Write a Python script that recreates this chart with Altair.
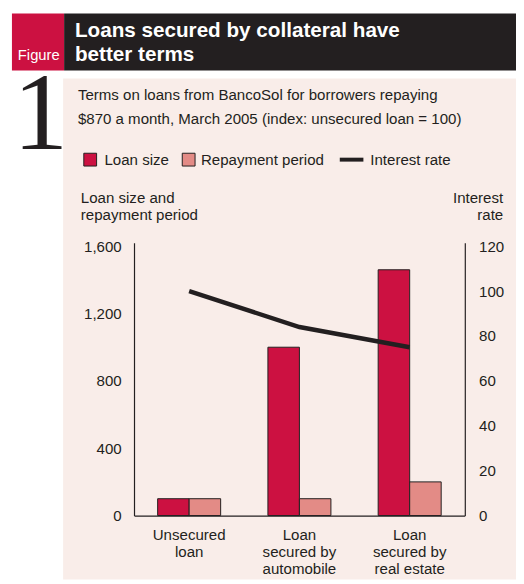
import altair as alt
import pandas as pd

# ---- data ----
categories = ["Unsecured\nloan", "Loan\nsecured by\nautomobile", "Loan\nsecured by\nreal estate"]
loan_size = [100, 1000, 1460]
repayment_period = [100, 100, 200]
interest_rate = [100, 84, 75]
series_names = ["Loan size", "Repayment period"]
left_ticks = [0, 400, 800, 1200, 1600]
right_ticks = [0, 20, 40, 60, 80, 100, 120]

RED = "#cc1141"
PINK = "#e38b86"
INK = "#231f20"
BG = "#f9ede9"
FONT = "Liberation Sans"
BOLD = "Liberation Sans"
SERIF = "Liberation Serif"
FS = 15.3

bars = pd.DataFrame({
    "category": categories * 2,
    "series": [series_names[0]] * 3 + [series_names[1]] * 3,
    "value": loan_size + repayment_period,
})
line_df = pd.DataFrame({"category": categories, "rate": interest_rate})
one = alt.Data(values=[{"k": 0}])

xenc = alt.X("category:N", sort=categories,
             scale=alt.Scale(paddingInner=0, paddingOuter=0),
             axis=alt.Axis(labelExpr="split(datum.label, '\\n')", labelAngle=0,
                           labelBaseline="top", labelPadding=12, labelLineHeight=17.5,
                           labelFontSize=FS, domain=True, ticks=False, title=None,
                           zindex=1))


def rect(x, x2, y, y2, fill, stroke=None):
    kw = dict(fill=fill)
    if stroke:
        kw.update(stroke=stroke, strokeWidth=1)
    return alt.Chart(one).mark_rect(**kw).encode(
        x=alt.value(x), x2=alt.value(x2), y=alt.value(y), y2=alt.value(y2))


def txt(s, x, y, size=FS, color=INK, align="left", font=FONT, weight="normal"):
    return alt.Chart(one).mark_text(text=s, align=align, baseline="alphabetic",
                                    fontSize=size, font=font, fontWeight=weight,
                                    color=color).encode(x=alt.value(x), y=alt.value(y))


decor = [
    rect(-72, 388, -167, 342, BG),
    rect(-124, -71, -233, -175, RED),
    rect(-71, 388, -233, -175, INK),
]

bar_layer = alt.Chart(bars).mark_bar(stroke=INK, strokeWidth=1).encode(
    x=xenc,
    xOffset=alt.XOffset("series:N", sort=series_names,
                        scale=alt.Scale(paddingInner=0, paddingOuter=0.75)),
    y=alt.Y("value:Q", scale=alt.Scale(domain=[0, 1620], nice=False),
            axis=alt.Axis(values=left_ticks, format=",.0f", orient="left",
                          labelPadding=13, title=None, zindex=1)),
    color=alt.Color("series:N", sort=series_names,
                    scale=alt.Scale(domain=series_names, range=[RED, PINK]), legend=None),
)

line_layer = alt.Chart(line_df).mark_line(color=INK, strokeWidth=4.5).encode(
    x=alt.X("category:N", sort=categories),
    y=alt.Y("rate:Q", scale=alt.Scale(domain=[0, 121.5], nice=False),
            axis=alt.Axis(values=right_ticks, orient="right", labelPadding=14,
                          title=None, zindex=1)),
)

texts = [
    txt("Figure", -118, -186, size=15, color="white"),
    txt("Loans secured by collateral have", -60, -209, size=21, color="white", font=BOLD, weight="bold"),
    txt("better terms", -60, -185, size=21, color="white", font=BOLD, weight="bold"),
    txt("1", -123, -95, size=112, font=SERIF),
    txt("Terms on loans from BancoSol for borrowers repaying", -57, -145.5),
    txt("$870 a month, March 2005 (index: unsecured loan = 100)", -57, -121),
    rect(-51, -38, -91, -78, RED, INK),
    txt(series_names[0], -30, -79),
    rect(49, 62, -91, -78, PINK, INK),
    txt(series_names[1], 68, -79),
    alt.Chart(one).mark_rule(color=INK, strokeWidth=4).encode(
        x=alt.value(209), x2=alt.value(233), y=alt.value(-84.5)),
    txt("Interest rate", 240, -79),
    txt("Loan size and", -54, -40),
    txt("repayment period", -54, -23),
    txt("Interest", 375, -40, align="right"),
    txt("rate", 375, -23, align="right"),
]

chart = alt.layer(*decor, bar_layer, line_layer, *texts).resolve_scale(
    y="independent"
).properties(
    width=336, height=277,
    autosize=alt.AutoSizeParams(type="none"),
    padding={"left": 128, "top": 234, "right": 52, "bottom": 65},
    background="white",
).configure_view(stroke=None).configure_axis(
    grid=False, ticks=False, domainColor=INK, domainWidth=1.2,
    labelFont=FONT, labelFontSize=FS, labelColor=INK,
)

chart.save("out.html", embed_options={"renderer": "svg", "actions": False})
